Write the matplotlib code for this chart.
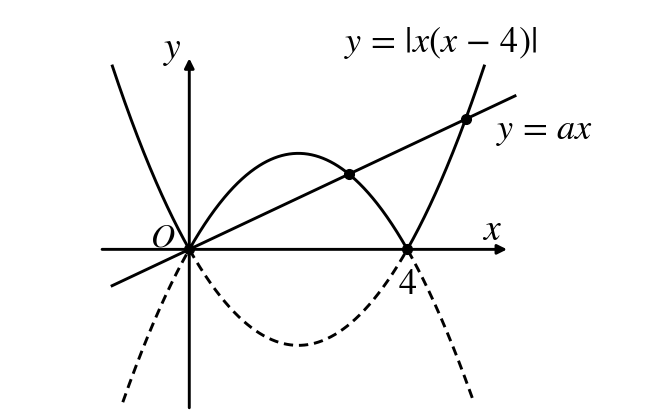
import numpy as np
import matplotlib.pyplot as plt

plt.rcParams['mathtext.fontset'] = 'stix'

# data (in graph units)
a = 1.07                       # slope of y = ax
root_left, root_right = 0.0, 4.0
solid_x_min, solid_x_max = -1.42, 5.42
dash_x_min, dash_x_max = -1.22, 5.22
line_x_min, line_x_max = -1.44, 6.0
xaxis_range = [-1.6, 5.83]
yaxis_range = [-6.6, 7.96]

fig = plt.figure(figsize=(6.5, 4.2), dpi=100)
ax = fig.add_axes([0, 0, 1, 1])
ax.set_xlim(-3.473, 8.453)
ax.set_ylim(-7.11, 10.39)
ax.axis('off')

lw = 2.1

# axes with arrows
ax.annotate('', xy=(xaxis_range[1], 0), xytext=(xaxis_range[0], 0),
            arrowprops=dict(arrowstyle='-|>', lw=lw, color='k', mutation_scale=14,
                            shrinkA=0, shrinkB=0))
ax.annotate('', xy=(0, yaxis_range[1]), xytext=(0, yaxis_range[0]),
            arrowprops=dict(arrowstyle='-|>', lw=lw, color='k', mutation_scale=14,
                            shrinkA=0, shrinkB=0))

# y = |x(x-4)|
xs = np.linspace(solid_x_min, solid_x_max, 600)
ax.plot(xs, np.abs(xs * (xs - 4)), color='k', lw=lw, solid_capstyle='butt')

# dashed reflection y = -|x(x-4)|
xd = np.linspace(dash_x_min, dash_x_max, 600)
ax.plot(xd, -np.abs(xd * (xd - 4)), color='k', lw=lw, dashes=(3.2, 2.0))

# y = ax
xl = np.array([line_x_min, line_x_max])
ax.plot(xl, a * xl, color='k', lw=lw, solid_capstyle='butt')

# intersection points
px = [root_left, 4 - a, root_right, 4 + a]
py = [a * v for v in px[:2]] + [0.0, a * (4 + a)]
ax.plot(px, py, 'o', color='k', markersize=7)

# labels
ax.text(-0.3, 8.3, '$y$', fontsize=27, ha='center', va='center')
ax.text(5.56, 0.8, '$x$', fontsize=27, ha='center', va='center')
ax.text(-0.48, 0.52, '$O$', fontsize=24, ha='center', va='center')
ax.text(4.0, -1.45, '$4$', fontsize=26, ha='center', va='center')
ax.text(4.6, 8.6, r'$y\,=\,|x(x\,-\,4)|$', fontsize=26, ha='center', va='center')
ax.text(6.51, 4.94, r'$y\,=\,ax$', fontsize=26, ha='center', va='center')

fig.savefig('out.png', dpi=100)
